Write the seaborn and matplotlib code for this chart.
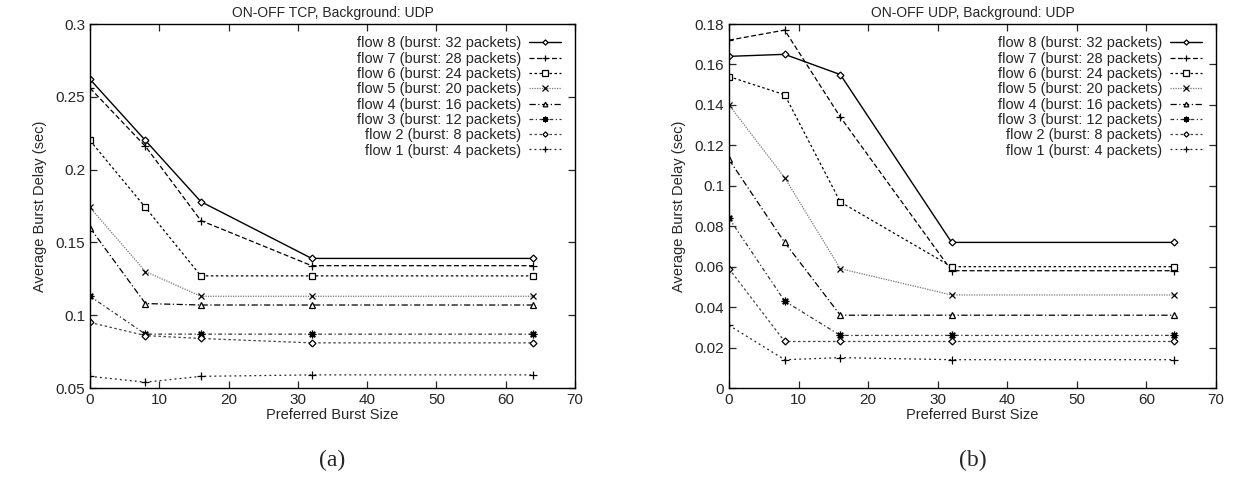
import numpy as np
import pandas as pd
import matplotlib
matplotlib.use("Agg")
import matplotlib.pyplot as plt
import seaborn as sns

burst_sizes = [0, 8, 16, 32, 64]
flow_labels = [
    "flow 8 (burst: 32 packets)",
    "flow 7 (burst: 28 packets)",
    "flow 6 (burst: 24 packets)",
    "flow 5 (burst: 20 packets)",
    "flow 4 (burst: 16 packets)",
    "flow 3 (burst: 12 packets)",
    "flow 2 (burst: 8 packets)",
    "flow 1 (burst: 4 packets)",
]

# (a) ON-OFF TCP, Background: UDP
tcp_flow8 = [0.262, 0.220, 0.178, 0.139, 0.139]
tcp_flow7 = [0.256, 0.216, 0.165, 0.134, 0.134]
tcp_flow6 = [0.220, 0.174, 0.127, 0.127, 0.127]
tcp_flow5 = [0.174, 0.130, 0.113, 0.113, 0.113]
tcp_flow4 = [0.160, 0.108, 0.107, 0.107, 0.107]
tcp_flow3 = [0.113, 0.087, 0.087, 0.087, 0.087]
tcp_flow2 = [0.095, 0.086, 0.084, 0.081, 0.081]
tcp_flow1 = [0.058, 0.054, 0.058, 0.059, 0.059]

# (b) ON-OFF UDP, Background: UDP
udp_flow8 = [0.164, 0.165, 0.155, 0.072, 0.072]
udp_flow7 = [0.172, 0.177, 0.134, 0.058, 0.058]
udp_flow6 = [0.154, 0.145, 0.092, 0.060, 0.060]
udp_flow5 = [0.140, 0.104, 0.059, 0.046, 0.046]
udp_flow4 = [0.113, 0.072, 0.036, 0.036, 0.036]
udp_flow3 = [0.084, 0.043, 0.026, 0.026, 0.026]
udp_flow2 = [0.059, 0.023, 0.023, 0.023, 0.023]
udp_flow1 = [0.031, 0.014, 0.015, 0.014, 0.014]

tcp_series = [tcp_flow8, tcp_flow7, tcp_flow6, tcp_flow5, tcp_flow4, tcp_flow3, tcp_flow2, tcp_flow1]
udp_series = [udp_flow8, udp_flow7, udp_flow6, udp_flow5, udp_flow4, udp_flow3, udp_flow2, udp_flow1]

sns.set_style("ticks")
plt.rcParams['font.family'] = ['Liberation Sans', 'DejaVu Sans']

styles = [
    dict(ls='-', marker='D', ms=3.5, color='black', lw=1.0, mfc='white'),
    dict(ls=(0, (4, 2)), marker='+', ms=6, color='black', lw=0.9),
    dict(ls=(0, (2, 2)), marker='s', ms=5, color='black', lw=0.9, mfc='white'),
    dict(ls=(0, (1, 1)), marker='x', ms=5, color='#777777', lw=0.9, mec='black'),
    dict(ls=(0, (5, 2, 1, 2)), marker='^', ms=4.5, color='black', lw=0.9, mfc='white'),
    dict(ls=(0, (3, 2, 1, 2)), marker=(8, 2, 0), ms=5.5, color='#333333', lw=0.9, mec='black'),
    dict(ls=(0, (2, 2)), marker='D', ms=3.5, color='#444444', lw=0.9, mfc='white', mec='black'),
    dict(ls=(0, (1.5, 2.5)), marker='+', ms=6, color='#222222', lw=0.9, mec='black'),
]

W, H = 1235, 491
fig = plt.figure(figsize=(W/100, H/100), dpi=100)
top_px, bot_px = 24, 388
ax1 = fig.add_axes([90/W, 1-bot_px/H, (575-90)/W, (bot_px-top_px)/H])
ax2 = fig.add_axes([729/W, 1-bot_px/H, (1216-729)/W, (bot_px-top_px)/H])

def draw(ax, series, title, ylim, yticks, yticklabels):
    for lab, vals, st in zip(flow_labels, series, styles):
        df = pd.DataFrame({"x": burst_sizes, "y": vals})
        sns.lineplot(data=df, x="x", y="y", ax=ax, label=lab,
                     linestyle=st['ls'], marker=st['marker'], markersize=st['ms'],
                     color=st['color'], linewidth=st['lw'],
                     markerfacecolor=st.get('mfc', st['color']),
                     markeredgecolor=st.get('mec', 'black'), markeredgewidth=0.9)
    ax.set_xlim(0, 70)
    ax.set_ylim(*ylim)
    ax.set_xticks(range(0, 71, 10))
    ax.set_yticks(yticks)
    ax.set_yticklabels(yticklabels)
    ax.tick_params(direction='in', top=True, right=True, labelsize=11, length=5, width=0.9)
    for sp in ax.spines.values():
        sp.set_linewidth(1.0)
        sp.set_color('black')
    ax.set_xlabel("Preferred Burst Size", fontsize=10.5, labelpad=1)
    ax.set_ylabel("Average Burst Delay (sec)", fontsize=10.5, labelpad=6)
    ax.set_title(title, fontsize=10, pad=5)
    leg = ax.legend(loc='upper right', bbox_to_anchor=(0.972, 0.966), frameon=False,
                    markerfirst=False, fontsize=10.5, handlelength=2.2,
                    labelspacing=0.09, borderaxespad=0, borderpad=0,
                    handletextpad=0.55)
    for h in leg.legend_handles:
        h.set_markersize(h.get_markersize() * 0.75)

draw(ax1, tcp_series, "ON-OFF TCP, Background: UDP", (0.05, 0.3),
     [0.05, 0.1, 0.15, 0.2, 0.25, 0.3], ["0.05", "0.1", "0.15", "0.2", "0.25", "0.3"])
draw(ax2, udp_series, "ON-OFF UDP, Background: UDP", (0.0, 0.18),
     [0, 0.02, 0.04, 0.06, 0.08, 0.1, 0.12, 0.14, 0.16, 0.18],
     ["0", "0.02", "0.04", "0.06", "0.08", "0.1", "0.12", "0.14", "0.16", "0.18"])

fig.text((90+575)/2/W, 1-460/H, "(a)", ha='center', va='center', fontsize=17, family='Liberation Serif')
fig.text((729+1216)/2/W, 1-460/H, "(b)", ha='center', va='center', fontsize=17, family='Liberation Serif')

fig.savefig("out.png", dpi=100)
